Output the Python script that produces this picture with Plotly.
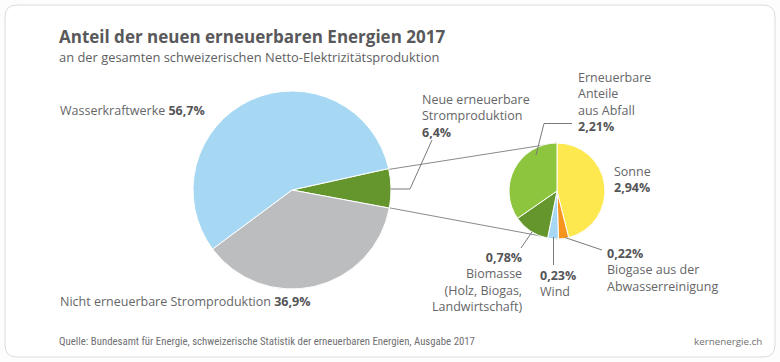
import plotly.graph_objects as go

W, H = 780, 362

# ---- data ----
main_labels = ["Neue erneuerbare Stromproduktion", "Nicht erneuerbare Stromproduktion", "Wasserkraftwerke"]
main_values = [6.4, 36.9, 56.7]
main_colors = ["#64962d", "#bcbdbf", "#a6d8f3"]

sub_labels = ["Sonne", "Biogase aus der Abwasserreinigung", "Wind", "Biomasse", "Erneuerbare Anteile aus Abfall"]
sub_values = [2.94, 0.22, 0.23, 0.78, 2.21]
sub_colors = ["#fde84f", "#f7941d", "#a6d8f3", "#64962d", "#8dc53f"]

title = "Anteil der neuen erneuerbaren Energien 2017"
subtitle = "an der gesamten schweizerischen Netto-Elektrizitätsproduktion"
source = "Quelle: Bundesamt für Energie, schweizerische Statistik der erneuerbaren Energien, Ausgabe 2017"
brand = "kernenergie.ch"


def fx(x):
    return x / W


def fy(y):
    return 1 - y / H


def pct(v, d):
    return (f"{v:.{d}f}%").replace(".", ",")


FONT = "Open Sans"
TXT = "#666668"
BOLD = "#555557"
LS = 12.5

fig = go.Figure()

# big pie: centre (292,190), r 99
fig.add_trace(go.Pie(
    labels=main_labels, values=main_values, sort=False, direction="clockwise",
    rotation=77.5, textinfo="none", hoverinfo="label+percent",
    marker=dict(colors=main_colors, line=dict(color="white", width=1)),
    domain=dict(x=[fx(193), fx(391)], y=[fy(289), fy(91)]), showlegend=False,
))
# small pie: centre (557,191), r 48
fig.add_trace(go.Pie(
    labels=sub_labels, values=sub_values, sort=False, direction="clockwise",
    rotation=0, textinfo="none", hoverinfo="label+value",
    marker=dict(colors=sub_colors, line=dict(color="white", width=1)),
    domain=dict(x=[fx(509), fx(605)], y=[fy(239), fy(143)]), showlegend=False,
))

shapes = []
# card
x0, y0, x1, y1, r = 5, 5, 775, 357, 12
path = (f"M {fx(x0+r)},{fy(y0)} L {fx(x1-r)},{fy(y0)} Q {fx(x1)},{fy(y0)} {fx(x1)},{fy(y0+r)} "
        f"L {fx(x1)},{fy(y1-r)} Q {fx(x1)},{fy(y1)} {fx(x1-r)},{fy(y1)} "
        f"L {fx(x0+r)},{fy(y1)} Q {fx(x0)},{fy(y1)} {fx(x0)},{fy(y1-r)} "
        f"L {fx(x0)},{fy(y0+r)} Q {fx(x0)},{fy(y0)} {fx(x0+r)},{fy(y0)} Z")
shapes.append(dict(type="path", xref="paper", yref="paper", path=path,
                   line=dict(color="#dcdcdc", width=1), fillcolor="white", layer="below"))


def seg(pts, color="#7a7a7a", layer="above"):
    p = "M " + " L ".join(f"{fx(a)},{fy(b)}" for a, b in pts)
    shapes.append(dict(type="path", xref="paper", yref="paper", path=p,
                       line=dict(color=color, width=1), layer=layer))


# connector lines between pies (behind the pies)
seg([(385, 170), (557, 143)], "#8a8a8a", "below")
seg([(385, 207), (557, 239)], "#8a8a8a", "below")
# leader lines
seg([(391, 189), (410, 189), (432, 140)])
seg([(572, 123.5), (544, 123.5), (536, 155)])
seg([(532, 232), (521, 248)])
seg([(553.5, 237), (553.5, 265)])
seg([(565, 237.5), (602, 250)])

ann = []


def text(x, y, s, size=LS, anchor="left", color=TXT, family=FONT):
    ann.append(dict(x=fx(x), y=fy(y), xref="paper", yref="paper", text=s, showarrow=False,
                    xanchor=anchor, yanchor="middle", align=anchor, borderpad=0,
                    font=dict(family=family, size=size, color=color)))


def bold(s):
    return f"<b><span style='color:{BOLD}'>{s}</span></b>"


text(58, 36.5, f"<b>{title}</b>", size=17, color="#59595b")
text(58, 57, subtitle, size=12.9, color="#606062")

text(59, 110, f"{main_labels[2]} {bold(pct(main_values[2], 1))}")
text(59, 301, f"{main_labels[1]} {bold(pct(main_values[1], 1))}")
text(421, 115.5, "Neue erneuerbare<br>Stromproduktion<br>" + bold(pct(main_values[0], 1)))
text(577, 102, "Erneuerbare<br>Anteile<br>aus Abfall<br>" + bold(pct(sub_values[4], 2)))
text(613, 179.5, sub_labels[0] + "<br>" + bold(pct(sub_values[0], 2)))
text(606, 269.5, bold(pct(sub_values[1], 2)) + "<br>Biogase aus der<br>Abwasserreinigung")
text(539, 283, bold(pct(sub_values[2], 2)) + "<br>" + sub_labels[2])
text(523, 281.5, bold(pct(sub_values[3], 2)) + "<br>Biomasse<br>(Holz, Biogas,<br>Landwirtschaft)", anchor="right")

text(58, 341, source, size=10.8, color="#707072", family="Roboto Condensed, Liberation Sans Narrow, Roboto")
text(763, 341, brand, size=9.8, anchor="right", color="#707072")

fig.update_layout(
    width=W, height=H, margin=dict(l=0, r=0, t=0, b=0),
    paper_bgcolor="#fdfdfd", plot_bgcolor="white",
    shapes=shapes, annotations=ann,
    xaxis=dict(visible=False), yaxis=dict(visible=False),
)

fig.write_html("out.html", config={"displayModeBar": False},
               post_script="document.body.style.margin='0';")
